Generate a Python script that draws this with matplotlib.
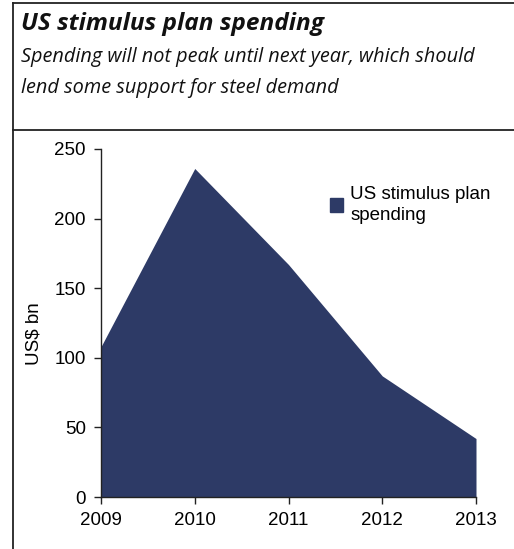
import matplotlib
matplotlib.use('Agg')
import matplotlib.pyplot as plt
from matplotlib.patches import Patch
from matplotlib.lines import Line2D

# ---- data ----
years = [2009, 2010, 2011, 2012, 2013]
spending = [108, 236, 167, 87, 42]
y_ticks = [0, 50, 100, 150, 200, 250]

NAVY = '#2d3a66'
W, H = 514, 549

plt.rcParams['font.family'] = ['Liberation Sans', 'DejaVu Sans']

fig = plt.figure(figsize=(W / 100, H / 100), dpi=100)

# ---- frame lines ----
def px(x, y):
    return x / W, 1 - y / H

for xs, ys in [((13, 13), (3, 549)), ((13, 514), (3, 3)), ((13, 514), (130, 130))]:
    (x0, y0), (x1, y1) = px(xs[0], ys[0]), px(xs[1], ys[1])
    fig.add_artist(Line2D([x0, x1], [y0, y1], color='#222222', lw=1.3,
                          transform=fig.transFigure))

# ---- title / subtitle ----
head = ['Open Sans', 'DejaVu Sans']
fig.text(21 / W, 1 - 30 / H, 'US stimulus plan spending', fontsize=17.6,
         fontweight='bold', style='italic', family=head,
         color='#111111', va='baseline')
fig.text(21 / W, 1 - 62 / H, 'Spending will not peak until next year, which should',
         fontsize=14.3, style='italic', family=head,
         color='#111111', va='baseline')
fig.text(21 / W, 1 - 93 / H, 'lend some support for steel demand',
         fontsize=14.3, style='italic', family=head,
         color='#111111', va='baseline')

# ---- chart ----
ax = fig.add_axes([101 / W, 52 / H, 375 / W, 348 / H])
ax.fill_between(years, spending, 0, color=NAVY, lw=0)
ax.set_xlim(years[0], years[-1])
ax.set_ylim(0, 250)
ax.set_xticks(years)
ax.set_yticks(y_ticks)
ax.tick_params(labelsize=13.5, length=5, width=1, color='#222222', pad=6)
for side in ['top', 'right']:
    ax.spines[side].set_visible(False)
for side in ['left', 'bottom']:
    ax.spines[side].set_color('#222222')
    ax.spines[side].set_linewidth(1)
ax.set_ylabel('US$ bn', fontsize=13.5)
ax.yaxis.set_label_coords(-0.155, 0.47)

leg = ax.legend(handles=[Patch(color=NAVY, label='US stimulus plan\nspending')],
                loc='upper left', bbox_to_anchor=(0.59, 0.915), frameon=False,
                fontsize=13.5, handlelength=0.7, handleheight=0.7, handletextpad=0.4,
                borderaxespad=0)
for t in leg.get_texts():
    t.set_linespacing(1.3)

fig.savefig('out.png', dpi=100)
